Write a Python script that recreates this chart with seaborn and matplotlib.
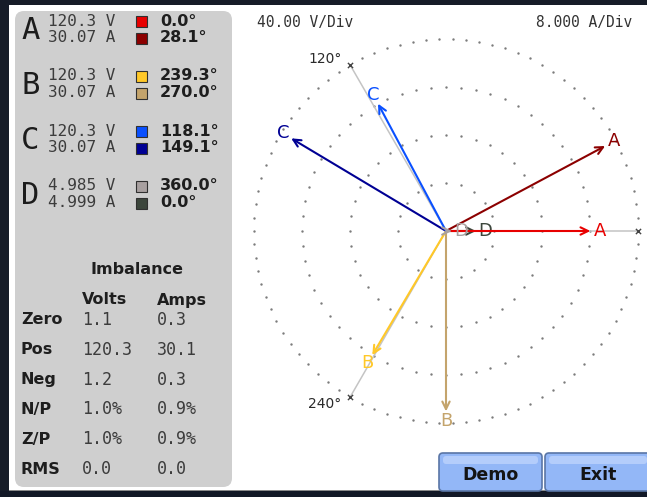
import numpy as np
import pandas as pd
import matplotlib
matplotlib.use('Agg')
import matplotlib.pyplot as plt
import seaborn as sns
from matplotlib.patches import FancyBboxPatch, Rectangle

# ---------------- data ----------------
phases = ['A', 'B', 'C', 'D']
volts = [120.3, 120.3, 120.3, 4.985]
amps = [30.07, 30.07, 30.07, 4.999]
volt_angles = [0.0, 239.3, 118.1, 360.0]
amp_angles = [28.1, 270.0, 149.1, 0.0]
volt_colors = ['#e80000', '#ffc828', '#0a50ff', '#a8a0a0']
amp_colors = ['#8c0000', '#c4a46c', '#000094', '#3c463c']
v_per_div = 40.0
a_per_div = 8.0
ring_divs = [1, 2, 3, 4]
ring_dots = [20, 40, 60, 90]
ref_angles = [0, 120, 240]
ref_labels = ['', '120°', '240°']

imb_rows = ['Zero', 'Pos', 'Neg', 'N/P', 'Z/P', 'RMS']
imb_volts = ['1.1', '120.3', '1.2', '1.0%', '1.0%', '0.0']
imb_amps = ['0.3', '30.1', '0.3', '0.9%', '0.9%', '0.0']

# ---------------- figure ----------------
sns.set_theme(style='white')
plt.rcParams['font.family'] = ['DejaVu Sans']
W, H = 647, 497
fig = plt.figure(figsize=(W / 100, H / 100), dpi=100, facecolor='white')

bg = fig.add_axes([0, 0, 1, 1])
bg.set_xlim(0, W)
bg.set_ylim(H, 0)
bg.axis('off')

# screen frame
bg.add_patch(Rectangle((0, 0), W, 4.5, color='#161c28', lw=0))
bg.add_patch(Rectangle((0, 0), 9, H, color='#161c28', lw=0))
bg.add_patch(Rectangle((0, 491), W, 6, color='#121826', lw=0))
bg.add_patch(Rectangle((9, 489.5), W, 1.5, color='#8a8a8a', lw=0))

# left panel
bg.add_patch(FancyBboxPatch((15, 11), 217, 476,
                            boxstyle='round,pad=0,rounding_size=9',
                            fc='#cfcfcf', ec='none'))

mono = 'DejaVu Sans Mono'
val_col = '#3c3c3c'
row0, row_step, line_gap = 21, 55, 16.5
for i, ph in enumerate(phases):
    y1 = row0 + i * row_step
    y2 = y1 + line_gap
    bg.text(21, (y1 + y2) / 2 + 1, ph, family=mono, fontsize=22,
            color='#1c1c1c', ha='left', va='center')
    bg.text(48, y1, f'{volts[i]:g} V' if i < 3 else f'{volts[i]:.3f} V',
            family=mono, fontsize=11.5, color=val_col, ha='left', va='center')
    bg.text(48, y2, f'{amps[i]:.2f} A' if i < 3 else f'{amps[i]:.3f} A',
            family=mono, fontsize=11.5, color=val_col, ha='left', va='center')
    for yy, c in ((y1, volt_colors[i]), (y2 + 1, amp_colors[i])):
        bg.add_patch(Rectangle((136, yy - 5.5), 11, 11, fc=c, ec='#303030', lw=0.8))
    bg.text(160, y1, f'{volt_angles[i]:.1f}°', fontsize=11.5, fontweight='bold',
            color='#1e1e1e', ha='left', va='center')
    bg.text(160, y2, f'{amp_angles[i]:.1f}°', fontsize=11.5, fontweight='bold',
            color='#1e1e1e', ha='left', va='center')

bg.text(137, 270, 'Imbalance', fontsize=11.5, fontweight='bold',
        color='#1e1e1e', ha='center', va='center')
bg.text(82, 300, 'Volts', fontsize=11.5, fontweight='bold', color='#1e1e1e',
        ha='left', va='center')
bg.text(157, 300, 'Amps', fontsize=11.5, fontweight='bold', color='#1e1e1e',
        ha='left', va='center')
for i, lab in enumerate(imb_rows):
    y = 320 + 29.8 * i
    bg.text(21, y, lab, fontsize=11.5, fontweight='bold', color='#1e1e1e',
            ha='left', va='center')
    bg.text(82, y, imb_volts[i], family=mono, fontsize=12, color=val_col,
            ha='left', va='center')
    bg.text(157, y, imb_amps[i], family=mono, fontsize=12, color=val_col,
            ha='left', va='center')

# scale labels
bg.text(257, 22, f'{v_per_div:.2f} V/Div', family=mono, fontsize=10.5,
        color='#333333', ha='left', va='center')
bg.text(632, 22, f'{a_per_div:.3f} A/Div', family=mono, fontsize=10.5,
        color='#333333', ha='right', va='center')

# buttons
for x0, w, lab in ((439, 103, 'Demo'), (545, 106, 'Exit')):
    bg.add_patch(FancyBboxPatch((x0, 453), w, 38,
                                boxstyle='round,pad=0,rounding_size=4',
                                fc='#93b7f7', ec='#5a76a6', lw=1.2))
    bg.add_patch(FancyBboxPatch((x0 + 4, 456), w - 8, 8,
                                boxstyle='round,pad=0,rounding_size=3',
                                fc='#b4cdfb', ec='none'))
    bg.text(x0 + w / 2, 475, lab, fontsize=12.5, fontweight='bold',
            color='#141414', ha='center', va='center')

# ---------------- phasor axes ----------------
cx, cy, ppd = 446, 231, 48.0
ax_l, ax_r, ax_t, ax_b = 236, 647, 8, 490
ax = fig.add_axes([ax_l / W, 1 - ax_b / H, (ax_r - ax_l) / W, (ax_b - ax_t) / H])
ax.set_xlim((ax_l - cx) / ppd, (ax_r - cx) / ppd)
ax.set_ylim((cy - ax_b) / ppd, (cy - ax_t) / ppd)
ax.axis('off')
ax.patch.set_alpha(0)

rows = []
for r, n in zip(ring_divs, ring_dots):
    th = np.deg2rad(np.arange(n) * 360.0 / n)
    for t in th:
        rows.append({'x': r * np.cos(t), 'y': r * np.sin(t)})
dots = pd.DataFrame(rows)
sns.scatterplot(data=dots, x='x', y='y', s=3, color='#7c7c7c', linewidth=0,
                ax=ax, legend=False, zorder=1)

rmax = max(ring_divs)
ref = pd.DataFrame({'x': [rmax * np.cos(np.deg2rad(a)) for a in ref_angles],
                    'y': [rmax * np.sin(np.deg2rad(a)) for a in ref_angles]})
for _, rr in ref.iterrows():
    ax.plot([0, rr.x], [0, rr.y], color='#c4c4c4', lw=1.1, zorder=2)
sns.scatterplot(data=ref, x='x', y='y', marker='x', s=14, color='#444444',
                linewidth=1, ax=ax, legend=False, zorder=3)
for (_, rr), lab, a in zip(ref.iterrows(), ref_labels, ref_angles):
    if lab:
        dy = 4 if a < 180 else -5
        ax.annotate(lab, (rr.x, rr.y), xytext=(-6, dy), textcoords='offset points',
                    ha='right', va='center', fontsize=10, color='#2a2a2a')


def phasor(mag, ang, color, label, z):
    t = np.deg2rad(ang)
    tip = (mag * np.cos(t), mag * np.sin(t))
    ax.annotate('', xy=tip, xytext=(0, 0),
                arrowprops=dict(arrowstyle='->,head_length=0.45,head_width=0.22',
                                color=color, lw=1.5, shrinkA=0, shrinkB=0),
                zorder=z)
    off = 0.2
    ax.text(tip[0] + off * np.cos(t), tip[1] + off * np.sin(t), label,
            color=color, fontsize=13, ha='center', va='center', zorder=z)


for i, ph in enumerate(phases):
    phasor(amps[i] / a_per_div, amp_angles[i], amp_colors[i], ph, 4)
for i, ph in enumerate(phases):
    phasor(volts[i] / v_per_div, volt_angles[i], volt_colors[i], ph, 5)

fig.savefig('out.png', dpi=100, facecolor='white')
